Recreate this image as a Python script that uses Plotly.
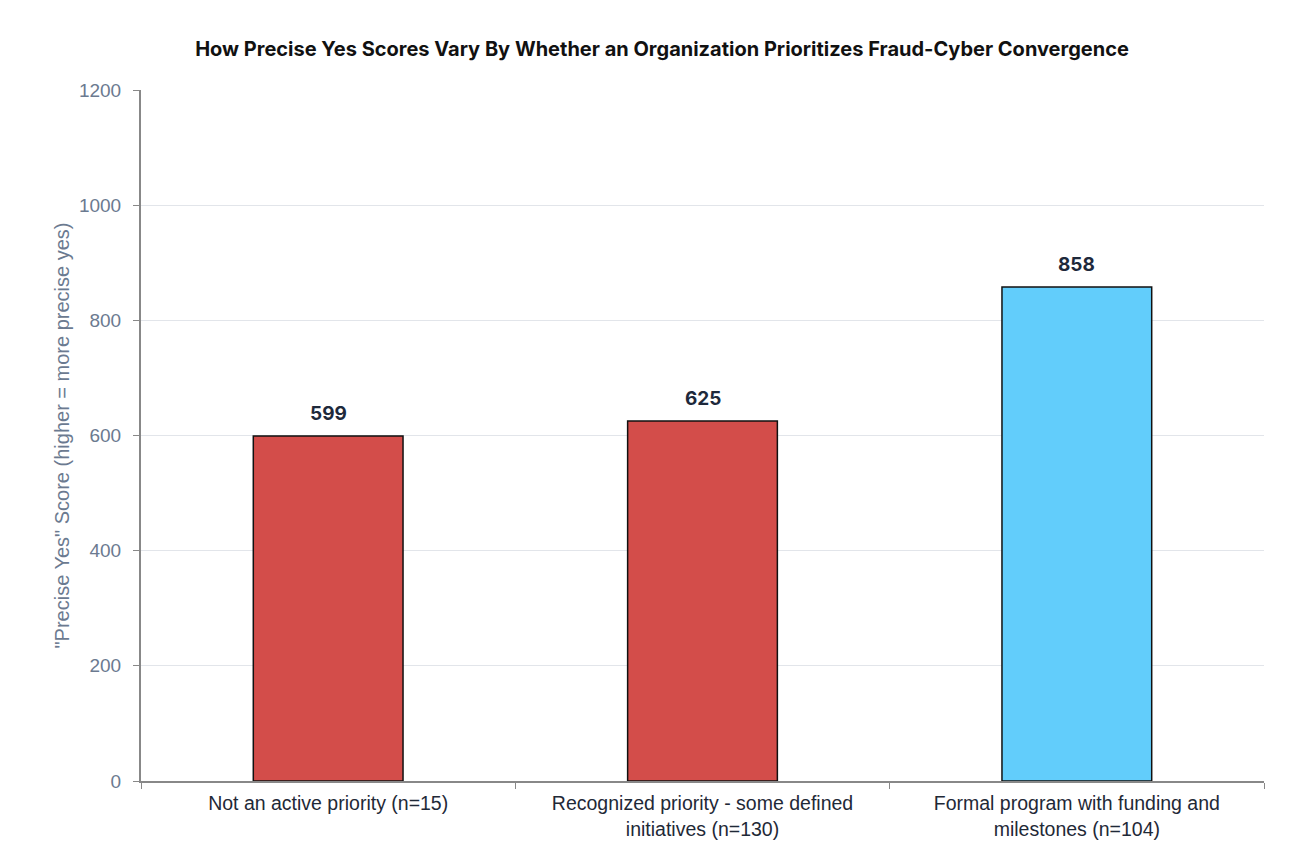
import plotly.graph_objects as go

categories = [
    "Not an active priority (n=15)",
    "Recognized priority - some defined<br>initiatives (n=130)",
    "Formal program with funding and<br>milestones (n=104)",
]
scores = [599, 625, 858]
bar_colors = ["#D34D4A", "#D34D4A", "#62CDFB"]

fig = go.Figure()
fig.add_trace(go.Bar(
    x=categories, y=scores,
    marker=dict(color=bar_colors, line=dict(color="#111111", width=1.5)),
    width=0.4,
))

# value labels above the bars
for cat, val in zip(categories, scores):
    fig.add_annotation(x=cat, y=val, text="<b>%d</b>" % val, showarrow=False,
                       yanchor="bottom", yshift=9,
                       font=dict(family="Inter, Arial", size=19, color="#1E293B"))

fig.update_layout(
    title=dict(text="<b>How Precise Yes Scores Vary By Whether an Organization Prioritizes Fraud-Cyber Convergence</b>",
               x=0.5, xanchor="center", y=0.953, yanchor="middle",
               font=dict(family="Inter, Arial", size=20, color="#111111")),
    width=1308, height=862,
    margin=dict(l=133, r=52, t=82, b=89),
    plot_bgcolor="white", paper_bgcolor="white",
    showlegend=False,
    font=dict(family="Liberation Sans, Arial"),
)
fig.update_yaxes(range=[0, 1200], dtick=200, showgrid=True, gridcolor="#E2E5EA", gridwidth=1,
                 showline=True, linecolor="#888888", linewidth=2, ticks="outside", ticklen=6,
                 tickcolor="#888888", ticklabelstandoff=8, tickfont=dict(size=19, color="#6B7A90"),
                 title=dict(text='"Precise Yes" Score (higher = more precise yes)',
                            font=dict(size=20, color="#6B7A90"), standoff=4),
                 zeroline=False)
fig.update_xaxes(showline=True, linecolor="#888888", linewidth=2, ticks="outside", ticklen=6,
                 tickcolor="#888888", tickson="boundaries", ticklabelstandoff=4,
                 tickfont=dict(size=19.5, color="#1F2937"))

fig.write_html("out.html")
